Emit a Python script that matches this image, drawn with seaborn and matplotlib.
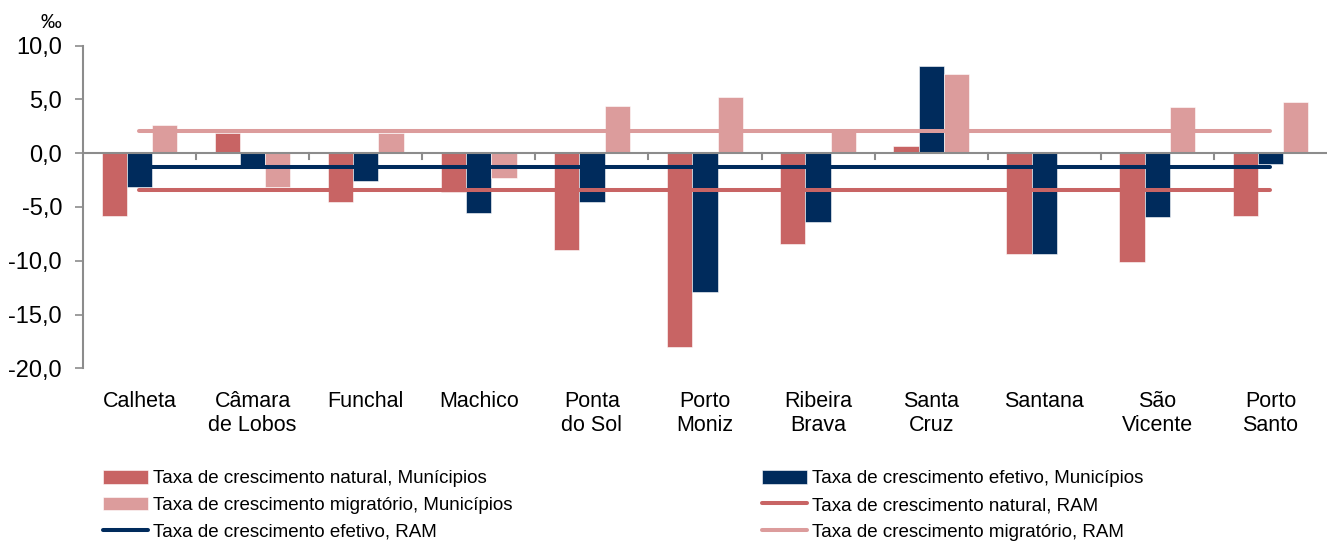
import pandas as pd
import numpy as np
import seaborn as sns
import matplotlib.pyplot as plt
from matplotlib.ticker import FuncFormatter

# values, per mille
municipios = ['Calheta', 'Câmara\nde Lobos', 'Funchal', 'Machico', 'Ponta\ndo Sol',
              'Porto\nMoniz', 'Ribeira\nBrava', 'Santa\nCruz', 'Santana', 'São\nVicente',
              'Porto\nSanto']
natural = [-5.8, 1.9, -4.5, -3.6, -9.0, -18.0, -8.4, 0.7, -9.4, -10.1, -5.8]
efetivo = [-3.1, -1.1, -2.6, -5.6, -4.5, -12.9, -6.4, 8.1, -9.4, -5.9, -1.0]
migratorio = [2.6, -3.1, 1.9, -2.3, 4.4, 5.2, 2.0, 7.4, 0.0, 4.3, 4.8]
ram_natural = -3.4
ram_efetivo = -1.3
ram_migratorio = 2.1

lab_nat = 'Taxa de crescimento natural, Munícipios'
lab_ef = 'Taxa de crescimento efetivo, Municípios'
lab_mig = 'Taxa de crescimento migratório, Municípios'
lab_ram_nat = 'Taxa de crescimento natural, RAM'
lab_ram_ef = 'Taxa de crescimento efetivo, RAM'
lab_ram_mig = 'Taxa de crescimento migratório, RAM'

c_nat = '#C86464'
c_ef = '#002B5C'
c_mig = '#DC9C9C'
grey = '#8C8C8C'

plt.rcParams['font.family'] = ['Liberation Sans', 'DejaVu Sans']

n = len(municipios)
bars = pd.DataFrame({
    'pos': list(range(n)) * 3,
    'valor': natural + efetivo + migratorio,
    'serie': [lab_nat] * n + [lab_ef] * n + [lab_mig] * n,
})
lines = pd.DataFrame({
    'pos': list(range(n)) * 3,
    'valor': [ram_natural] * n + [ram_efetivo] * n + [ram_migratorio] * n,
    'serie': [lab_ram_nat] * n + [lab_ram_ef] * n + [lab_ram_mig] * n,
})

fig = plt.figure(figsize=(13.27, 5.42), dpi=100)
ax = fig.add_axes([0.0625, 0.3205, 0.9375, 0.5952])

sns.barplot(data=bars, x='pos', y='valor', hue='serie', native_scale=True,
            palette=[c_nat, c_ef, c_mig], saturation=1, width=0.67, gap=0,
            edgecolor='white', linewidth=0.4, ax=ax, zorder=2)
sns.lineplot(data=lines, x='pos', y='valor', hue='serie',
             palette=[c_nat, c_ef, c_mig], linewidth=2.9,
             solid_capstyle='round', ax=ax, zorder=3)

ax.set_xlim(-0.5, n - 0.5)
ax.set_ylim(-20, 10)
ax.set_yticks(np.arange(-20, 10.1, 5))
ax.yaxis.set_major_formatter(FuncFormatter(lambda v, p: f'{v:.1f}'.replace('.', ',')))
ax.set_xticks(range(n))
ax.set_xticklabels(municipios, fontsize=15.5, linespacing=1.2)
ax.tick_params(axis='x', length=0, pad=16)
ax.tick_params(axis='y', length=6, width=1.2, color=grey, labelsize=17, pad=9)
ax.set_xlabel('')
ax.set_ylabel('')

for s in ['top', 'right', 'bottom']:
    ax.spines[s].set_visible(False)
ax.spines['left'].set_color(grey)
ax.spines['left'].set_linewidth(1.5)

# category axis at zero with tick marks between groups
ax.axhline(0, color=grey, linewidth=1.5, zorder=2.5)
for b in np.arange(0.5, n - 0.5, 1):
    ax.plot([b, b], [0, -0.55], color=grey, linewidth=1.5, zorder=2.5)

fig.text(0.0384, 0.959, '‰', fontsize=15, ha='center', va='center')

handles, labels = ax.get_legend_handles_labels()
hmap = dict(zip(labels, handles))
order = [lab_nat, lab_mig, lab_ram_ef, lab_ef, lab_ram_nat, lab_ram_mig]
ax.legend([hmap[k] for k in order], order, ncol=2, loc='upper left',
          bbox_to_anchor=(0.0776, 0.133), bbox_transform=fig.transFigure,
          frameon=False, fontsize=13.5, handlelength=2.4, handleheight=0.75,
          handletextpad=0.27, labelspacing=0.5, columnspacing=13.3,
          borderpad=0, borderaxespad=0)

fig.savefig('out.png', dpi=100)
